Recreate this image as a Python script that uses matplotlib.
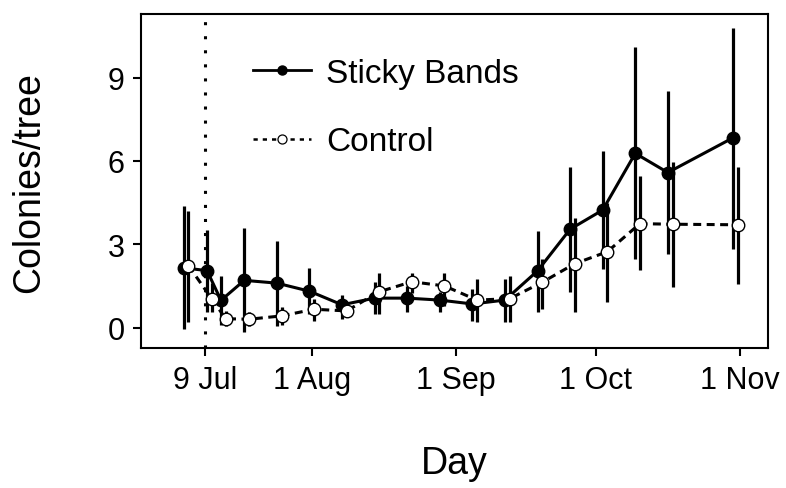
import datetime as dt
import matplotlib
matplotlib.use("Agg")
import matplotlib.pyplot as plt

plt.rcParams["font.family"] = ["Liberation Sans", "DejaVu Sans"]

# sampling dates
dates = ["2017-07-05", "2017-07-10", "2017-07-13", "2017-07-18", "2017-07-25",
         "2017-08-01", "2017-08-08", "2017-08-15", "2017-08-22", "2017-08-29",
         "2017-09-05", "2017-09-12", "2017-09-19", "2017-09-26", "2017-10-03",
         "2017-10-10", "2017-10-17", "2017-10-31"]

# Sticky Bands: mean and interval
sticky = [2.15, 2.05, 0.98, 1.70, 1.60, 1.31, 0.82, 1.06, 1.06, 0.99,
          0.85, 0.99, 2.04, 3.54, 4.23, 6.27, 5.58, 6.83]
sticky_lo = [-0.05, 0.55, 0.10, -0.17, 0.06, 0.50, 0.32, 0.49, 0.55, 0.55,
             0.24, 0.19, 0.55, 1.27, 2.10, 2.46, 2.66, 2.84]
sticky_hi = [4.37, 3.50, 1.87, 3.58, 3.12, 2.13, 1.18, 1.64, 1.50, 1.27,
             1.38, 1.74, 3.48, 5.78, 6.36, 10.10, 8.52, 10.77]

# Control: mean and interval
control = [2.23, 1.04, 0.32, 0.30, 0.42, 0.66, 0.60, 1.29, 1.65, 1.50,
           0.99, 1.04, 1.63, 2.30, 2.73, 3.74, 3.72, 3.70]
control_lo = [0.21, 0.55, 0.05, 0.05, 0.10, 0.24, 0.45, 0.49, 1.26, 0.78,
              0.19, 0.19, 0.67, 0.55, 0.91, 2.06, 1.46, 1.58]
control_hi = [4.20, 1.60, 0.60, 0.55, 0.75, 1.02, 0.75, 1.98, 1.98, 1.98,
              1.74, 1.86, 2.46, 3.96, 4.50, 5.46, 5.96, 5.78]

tick_dates = ["2017-07-09", "2017-08-01", "2017-09-01", "2017-10-01", "2017-11-01"]
tick_labels = ["9 Jul", "1 Aug", "1 Sep", "1 Oct", "1 Nov"]
band_date = "2017-07-09"

to_dt = lambda s: dt.datetime.strptime(s, "%Y-%m-%d")
d = [to_dt(s) for s in dates]
dodge = dt.timedelta(hours=12)
xs = [x - dodge for x in d]
xc = [x + dodge for x in d]

fig = plt.figure(figsize=(7.86, 4.89), dpi=100)
ax = fig.add_axes([0.180, 0.286, 0.797, 0.683])

# error bars
ax.vlines(xs, sticky_lo, sticky_hi, color="black", lw=2.3, zorder=2)
ax.vlines(xc, control_lo, control_hi, color="black", lw=2.3, zorder=2)

# lines
ax.plot(xs, sticky, color="black", lw=2.2, zorder=3)
ax.plot(xc, control, color="black", lw=2.2, ls=(0, (2.6, 1.8)), zorder=3)

# points
ax.plot(xs, sticky, ls="none", marker="o", ms=9, mfc="black", mec="black", zorder=4)
ax.plot(xc, control, ls="none", marker="o", ms=9, mfc="white", mec="black",
        mew=1.0, zorder=5)

# banding date
ax.axvline(to_dt(band_date), color="black", lw=2.2, ls=(0, (1, 3.6)), zorder=1)

# legend handles
h1, = ax.plot([], [], color="black", lw=2.0, marker="o", ms=6.5, mfc="black")
h2, = ax.plot([], [], color="black", lw=1.8, ls=(0, (1.7, 2.0)), marker="o", ms=6.5,
              mfc="white", mew=0.9)
ax.legend([h1, h2], ["Sticky Bands", "Control"], loc="center left",
          bbox_to_anchor=(0.178, 0.721), frameon=False, fontsize=24,
          handlelength=1.75, handletextpad=0.45, labelspacing=1.13,
          borderpad=0, borderaxespad=0)

ax.set_xlim(to_dt("2017-06-25") + dt.timedelta(hours=10), to_dt("2017-11-07"))
ax.set_ylim(-0.74, 11.28)
ax.set_xticks([to_dt(s) for s in tick_dates])
ax.set_xticklabels(tick_labels)
ax.set_yticks([0, 3, 6, 9])

ax.tick_params(direction="out", length=6, width=1.5, labelsize=22, pad=6, colors="black")
for sp in ax.spines.values():
    sp.set_linewidth(1.5)

ax.set_xlabel("Day", fontsize=27)
ax.set_ylabel("Colonies/tree", fontsize=27)
ax.xaxis.set_label_coords(0.5, -0.29)
ax.yaxis.set_label_coords(-0.151, 0.5)

fig.savefig("out.png", dpi=100)
